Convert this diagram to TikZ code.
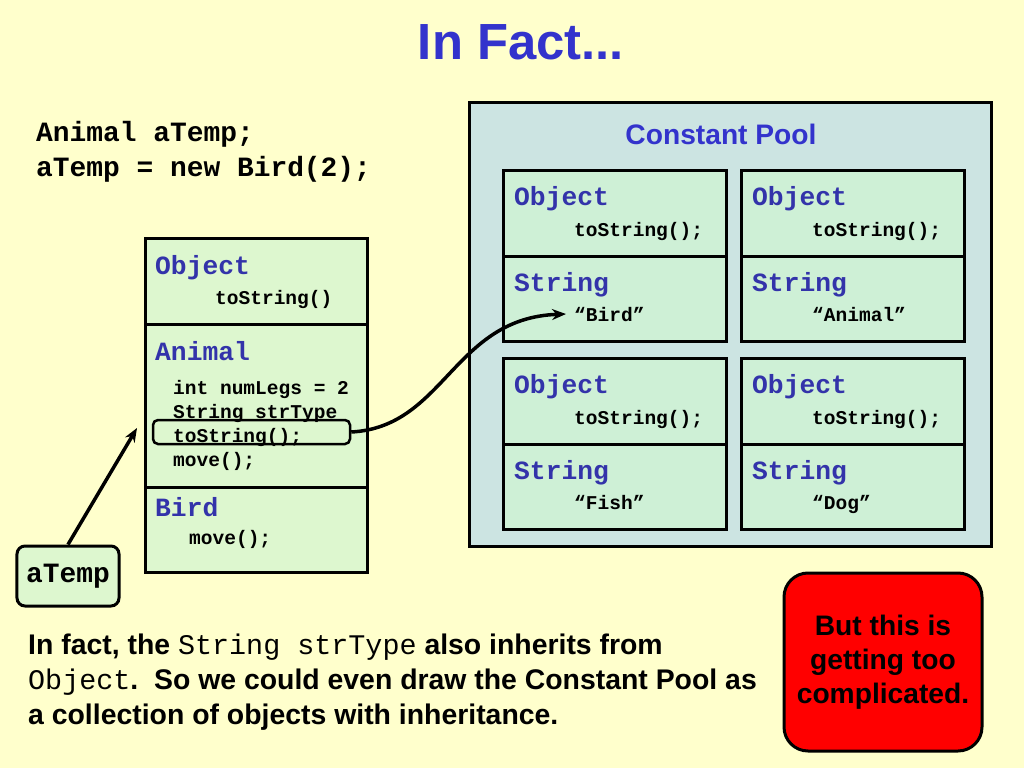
\documentclass[tikz,border=0pt]{standalone}
\usepackage{fontspec}
\setmainfont{Liberation Sans}
\newfontfamily\codefont{Liberation Mono}
\usepackage{xcolor}
\definecolor{cPage}{HTML}{FFFFCC}
\definecolor{cTitle}{HTML}{3333CC}
\definecolor{cClass}{HTML}{3333AA}
\definecolor{cHeap}{HTML}{DDF7CF}
\definecolor{cPool}{HTML}{CCE4E2}
\definecolor{cPoolObj}{HTML}{CEF0D6}
\definecolor{cStop}{HTML}{FF0000}
\usetikzlibrary{arrows.meta}
\tikzset{
  heap-box/.style={draw=black,line width=3bp,fill=cHeap},
  pool-box/.style={draw=black,line width=3bp,fill=cPool},
  pool-obj/.style={draw=black,line width=3bp,fill=cPoolObj},
  class-name/.style={anchor=base west,inner sep=0pt,text=cClass,
    font=\codefont\bfseries\fontsize{26.4}{26}\selectfont},
  member/.style={anchor=base west,inner sep=0pt,align=left,
    font=\codefont\bfseries\fontsize{19.6}{24}\selectfont},
  ref-box/.style={draw=black,line width=3bp,fill=cHeap,rounded corners=8bp,
    minimum width=102bp,minimum height=60bp,inner sep=0pt,
    font=\codefont\bfseries\fontsize{28}{28}\selectfont},
  hl-box/.style={draw=black,line width=2.5bp,rounded corners=5bp,
    minimum width=197bp,minimum height=24bp,inner sep=0pt},
  stop-box/.style={draw=black,line width=3bp,fill=cStop,rounded corners=24bp,
    minimum width=198bp,minimum height=178bp,align=center,
    font=\bfseries\fontsize{28.3}{34}\selectfont},
  arrow/.style={-{Stealth[length=14bp,width=11bp]},line width=3.5bp,draw=black},
}

\begin{document}
\begin{tikzpicture}[x=1bp,y=-1bp]
  \fill[cPage] (0,0) rectangle (1024,768);
  \useasboundingbox (0,0) rectangle (1024,768);

  \node[text=cTitle,font=\bfseries\fontsize{51}{51}\selectfont]
    (title) at (521,42) {In Fact...};

  % declaration (base = last line)
  \node[anchor=base west,inner sep=0pt,align=left,
    font=\codefont\bfseries\fontsize{28}{35}\selectfont]
    (decl) at (36,176) {Animal aTemp;\\aTemp = new Bird(2);};

  % object on the heap
  \draw[heap-box] (145,238) rectangle (367,324);
  \draw[heap-box] (145,324) rectangle (367,487);
  \draw[heap-box] (145,487) rectangle (367,572);
  \node[class-name] (hObj) at (155,274) {Object};
  \node[member] (hObjM) at (215,304) {toString()};
  \node[class-name] (hAni) at (155,360) {Animal};
  \node[member] (hAniM) at (173,466)
    {int numLegs = 2\\String strType\\toString();\\move();};
  \node[class-name] (hBird) at (155,516) {Bird};
  \node[member] (hBirdM) at (189,544) {move();};
  \node[hl-box] (hl) at (251.5,432) {};

  % reference variable
  \node[ref-box] (aTemp) at (68,576) {aTemp};
  \coordinate (ptr) at (137,428);
  \draw[arrow] (aTemp.north) -- (ptr);

  % constant pool
  \draw[pool-box] (469,102) rectangle (991,546);
  \node[text=cTitle,font=\bfseries\fontsize{28.3}{28}\selectfont]
    (poolTitle) at (721,134) {Constant Pool};
  \foreach \x/\y/\s/\n in {503/170/Bird/a,741/170/Animal/b,
                           503/358/Fish/c,741/358/Dog/d}{
    \draw[pool-obj] (\x,\y) rectangle (\x+223,\y+86);
    \draw[pool-obj] (\x,\y+86) rectangle (\x+223,\y+171);
    \node[class-name] (pObj\n) at (\x+11,\y+35) {Object};
    \node[member] (pObjM\n) at (\x+71,\y+66) {toString();};
    \node[class-name] (pStr\n) at (\x+11,\y+121) {String};
    \node[member] (pStrM\n) at (\x+71,\y+151) {“\s”};
  }

  \draw[arrow] (hl.east) .. controls (445,427) and (453,318) .. ([xshift=-8bp]pStrMa.west);

  % note
  \node[anchor=base west,inner sep=0pt,align=left,
    font=\bfseries\fontsize{28.5}{35}\selectfont] (note) at (28,724)
    {In fact, the {\codefont\mdseries String strType} also inherits from\\
     {\codefont\mdseries Object}.\ \ So we could even draw the Constant Pool as\\
     a collection of objects with inheritance.};

  \node[stop-box] (stop) at (883,662) {But this is\\getting too\\complicated.};
\end{tikzpicture}
\end{document}
